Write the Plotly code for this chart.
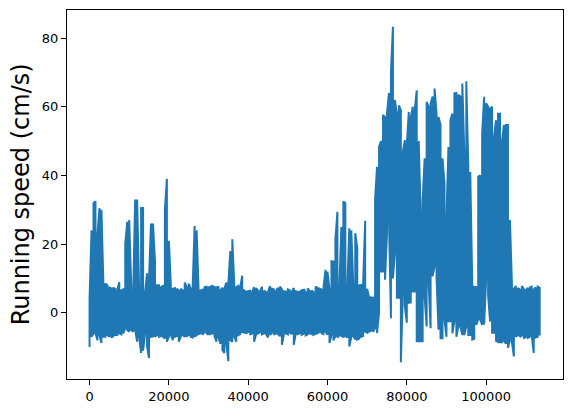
import plotly.graph_objects as go

# Sample index (every 500 samples) at which the trace envelope was read
sample_step = 500
n_samples = 228
sample_index = [i * sample_step for i in range(n_samples)]

# Upper envelope of the running-speed trace (cm/s)
upper_cm_s = [
    4, 24, 32, 32.5, 23, 30.5, 30, 8, 8.5, 8,
    7.5, 7, 7.2, 7, 6.5, 9, 6.5, 6.8, 20, 26.5,
    27, 8, 5.5, 33, 33, 7, 30.5, 30.5, 6, 11.5,
    10, 26, 26, 15, 8, 8, 7.5, 7.8, 30, 39,
    21, 8, 7, 7.2, 7, 6.5, 7, 6.5, 8.8, 7.5,
    8.5, 7, 7.5, 25.3, 24, 6.5, 6.5, 6.7, 7.5, 7.6,
    7.4, 7.6, 7.8, 7.5, 7.4, 7.5, 6.6, 7.3, 7, 8.8,
    8.5, 18, 21.4, 8, 7.5, 7.8, 7.5, 10.8, 6.5, 6.2,
    6.3, 6.4, 6, 7.5, 7.2, 6.4, 6.2, 7.6, 6.5, 6,
    6.1, 7.8, 7, 6.8, 6.3, 7.3, 7.6, 6.8, 6.3, 6.2,
    6.8, 6.5, 6.1, 7.2, 6.3, 6.1, 6.2, 6.5, 6.9, 6.0,
    7.1, 6.3, 6.5, 6.0, 7.6, 7.2, 7.0, 6.8, 7.4, 12.5,
    12, 7, 15, 14.9, 21.4, 29.4, 8, 25, 32.4, 32,
    8, 24.6, 24, 8, 23.2, 19, 8, 8.1, 9, 26.8,
    7, 4.4, 4.5, 4.4, 33, 42.5, 48.3, 50, 57.6, 57,
    58, 64, 70, 83.3, 62, 58, 60.4, 59, 47, 50.3,
    49, 58.5, 57, 60, 59, 64.8, 50, 29, 32.8, 45,
    61.4, 60, 61, 63, 65.3, 58, 57, 54.7, 45, 37.8,
    28, 48.3, 56.1, 58, 63.9, 64, 63.5, 63, 66.8, 46.5,
    67.4, 42.5, 41, 8.6, 7.6, 7.5, 39.6, 40, 52.2, 62.9,
    61, 60, 59.5, 60, 51.3, 56.1, 58, 58, 50, 54.7,
    54.7, 54.7, 27, 8.6, 7, 7.8, 7.2, 6.8, 7.8, 7,
    6.6, 7.2, 7.4, 7.6, 6.8, 7.4, 7.6, 7.3,
]

# Lower envelope of the running-speed trace (cm/s)
lower_cm_s = [
    -10, -7, -6, -6, -8, -6.5, -8.8, -7, -7, -6.5,
    -7, -7.2, -6.8, -6.5, -6.5, -6, -6.3, -6, -4.5, -5,
    -5.5, -5, -5.5, -5, -8.4, -7, -11.7, -11, -6, -9.8,
    -13.2, -7, -6.9, -7, -6.5, -7, -6.8, -7, -7.5, -8.4,
    -7, -6.5, -8, -7, -6.8, -8.4, -7, -6.5, -7, -6.8,
    -6.5, -7, -7.2, -7, -6.5, -6.2, -6, -6.4, -5.6, -6,
    -6.4, -6.2, -6, -6.8, -8.4, -7.2, -9, -10.8, -11.7, -9,
    -14.1, -8, -8.4, -7, -8.4, -6.5, -6.2, -5.6, -5.8, -6,
    -5.6, -6.4, -6, -8.4, -6.3, -6, -5.7, -6.3, -6, -6.2,
    -7.2, -6.5, -5.8, -6.4, -6, -6.2, -6.8, -9.3, -6.4, -6,
    -6.3, -5.8, -6.2, -9.3, -6, -6.2, -6, -6.4, -6.1, -6.6,
    -6.3, -6, -6.2, -6.4, -6.1, -5.9, -5.6, -6.0, -6.2, -5.5,
    -6.4, -8.8, -6.5, -8, -6.8, -7.2, -6.5, -6.8, -7, -6.8,
    -7.2, -9.8, -7, -6.8, -7.8, -7.8, -7.5, -7, -6.8, -5.5,
    -5.8, -5.5, -5.2, -5.5, -4.5, -5.9, 0, 12, 12, 9.6,
    23, 27, -1.6, 10, 17.4, 4.4, 4.4, -14.4, 5.8, 2,
    -2.9, 2.9, 3, 6.2, 6.2, -8.3, -8.3, -8.3, -8.3, 4.7,
    -4, 8.7, -4.5, 10.6, 13.5, 10, -4.9, -7.4, -7.4, -2,
    -7, -2.5, -2.5, -6, -2.5, -7, -4, -4, -6.5, -6.5,
    -4, -6.5, -6.5, -7.8, -7.6, -3.5, -2, -2, -3.5, -3.5,
    9.6, 5, -2.5, -5.8, -5.8, -8.2, -8.5, -8.6, -8.6, -8.2,
    -9, -10.2, -8, -8.5, -12.7, -7, -6.5, -7, -6.6, -7.5,
    -7, -7.3, -7, -6.6, -11.7, -7.2, -7, -6.6,
]

x_ticks = [0, 20000, 40000, 60000, 80000, 100000]
y_ticks = [0, 20, 40, 60, 80]
y_label = "Running speed (cm/s)"

# The dense noisy trace: at each read position, a stroke between the envelope values
xs, ys = [], []
for i, (x, lo, hi) in enumerate(zip(sample_index, lower_cm_s, upper_cm_s)):
    xs += [x, x]
    ys += [lo, hi] if i % 2 == 0 else [hi, lo]

fig = go.Figure()
fig.add_trace(go.Scatter(
    x=xs, y=ys, mode="lines",
    line=dict(color="#1f77b4", width=2),
    hoverinfo="skip", showlegend=False,
))

x_min, x_max = min(sample_index), max(sample_index) + 200
y_min, y_max = min(lower_cm_s), max(upper_cm_s)
xpad = 0.05 * (x_max - x_min)
ypad = 0.05 * (y_max - y_min)

axis_common = dict(
    showline=True, linecolor="black", linewidth=1, mirror=True,
    ticks="outside", ticklen=5, tickwidth=1, tickcolor="black",
    showgrid=False, zeroline=False,
    tickfont=dict(family="DejaVu Sans", size=13, color="black"),
)

fig.update_layout(
    width=572, height=413,
    margin=dict(l=67, r=9, t=10, b=34),
    paper_bgcolor="white", plot_bgcolor="white",
    hovermode=False,
    xaxis=dict(range=[x_min - xpad, x_max + xpad], tickvals=x_ticks,
               ticktext=[str(v) for v in x_ticks], **axis_common),
    yaxis=dict(range=[y_min - ypad, y_max + ypad], tickvals=y_ticks,
               ticktext=[str(v) for v in y_ticks], **axis_common),
    annotations=[dict(
        text=y_label, textangle=-90, xref="paper", yref="paper",
        x=-0.093, y=0.5, xanchor="center", yanchor="middle", showarrow=False,
        font=dict(family="DejaVu Sans", size=24, color="black"),
    )],
)

fig.write_html(
    "out.html",
    config={"displayModeBar": False},
    post_script="document.body.style.margin='0';document.body.style.overflow='hidden';",
)
